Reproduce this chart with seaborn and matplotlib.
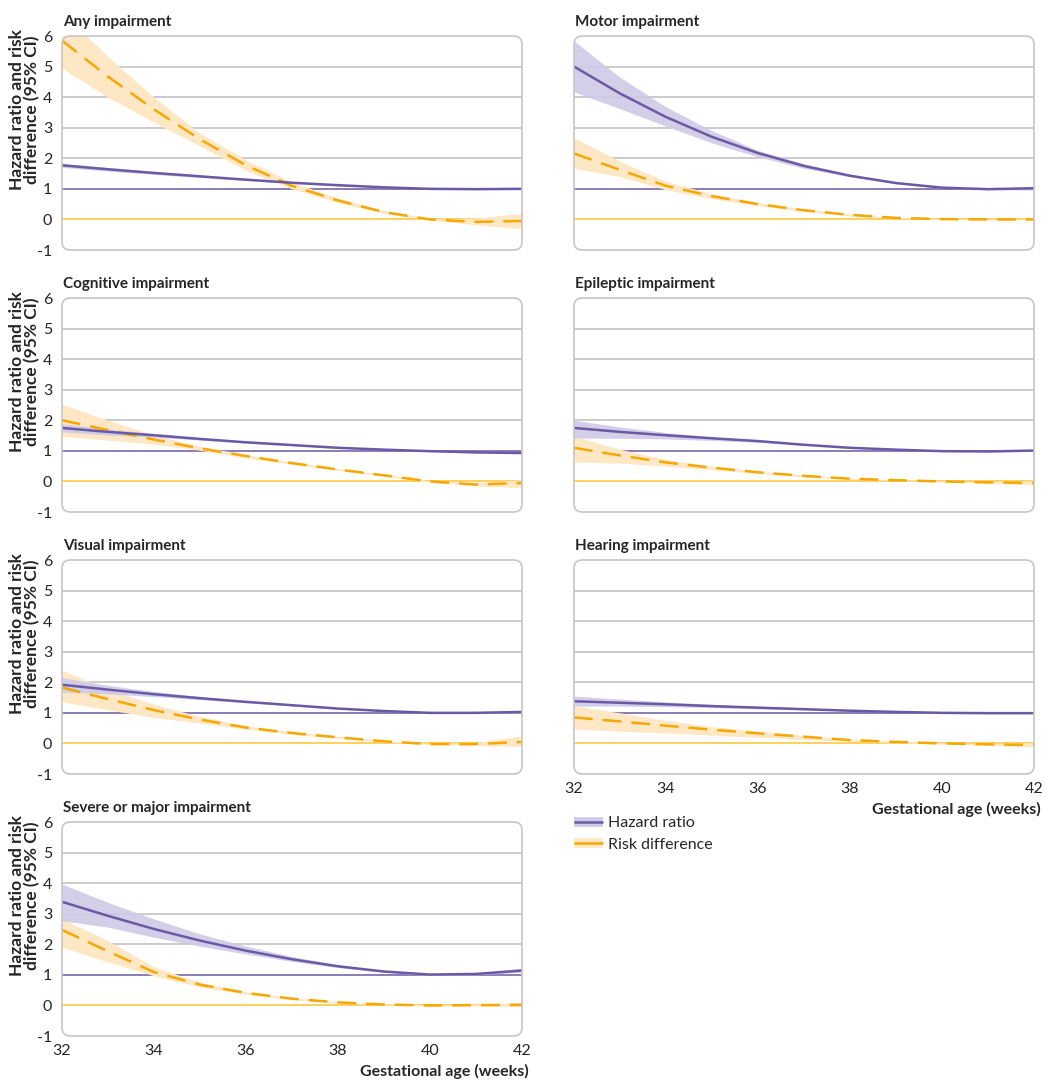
import numpy as np
import pandas as pd
import matplotlib
matplotlib.use("Agg")
import matplotlib.pyplot as plt
from matplotlib.patches import FancyBboxPatch
from matplotlib.lines import Line2D
import seaborn as sns

# ---------------- data ----------------
weeks = [32, 33, 34, 35, 36, 37, 38, 39, 40, 41, 42]

any_hr    = [1.77, 1.64, 1.52, 1.41, 1.30, 1.20, 1.12, 1.05, 1.00, 0.99, 1.00]
any_hr_lo = [1.70, 1.58, 1.47, 1.37, 1.27, 1.18, 1.10, 1.04, 0.99, 0.98, 0.98]
any_hr_hi = [1.84, 1.70, 1.57, 1.45, 1.33, 1.22, 1.14, 1.06, 1.01, 1.00, 1.02]
any_rd    = [5.85, 4.67, 3.60, 2.62, 1.77, 1.10, 0.62, 0.24, 0.00, -0.08, -0.05]
any_rd_lo = [4.95, 4.00, 3.18, 2.40, 1.60, 1.00, 0.55, 0.19, -0.02, -0.18, -0.30]
any_rd_hi = [6.80, 5.32, 4.00, 2.82, 1.95, 1.22, 0.70, 0.29, 0.02, 0.04, 0.20]

motor_hr    = [5.00, 4.12, 3.35, 2.70, 2.17, 1.75, 1.43, 1.19, 1.04, 0.99, 1.02]
motor_hr_lo = [4.17, 3.62, 3.05, 2.50, 2.05, 1.67, 1.39, 1.17, 1.02, 0.97, 0.96]
motor_hr_hi = [5.84, 4.65, 3.68, 2.90, 2.26, 1.82, 1.47, 1.21, 1.05, 1.01, 1.08]
motor_rd    = [2.16, 1.62, 1.10, 0.76, 0.50, 0.30, 0.15, 0.05, 0.01, 0.00, 0.00]
motor_rd_lo = [1.68, 1.40, 0.97, 0.68, 0.45, 0.26, 0.12, 0.03, 0.00, -0.01, -0.02]
motor_rd_hi = [2.68, 1.90, 1.24, 0.84, 0.55, 0.34, 0.18, 0.07, 0.02, 0.01, 0.01]

cog_hr    = [1.75, 1.62, 1.51, 1.39, 1.28, 1.19, 1.10, 1.04, 0.99, 0.95, 0.93]
cog_hr_lo = [1.62, 1.52, 1.45, 1.35, 1.25, 1.17, 1.08, 1.03, 0.98, 0.93, 0.90]
cog_hr_hi = [1.88, 1.72, 1.57, 1.43, 1.31, 1.21, 1.12, 1.05, 1.00, 0.97, 0.96]
cog_rd    = [2.00, 1.68, 1.37, 1.08, 0.83, 0.60, 0.39, 0.20, 0.00, -0.10, -0.05]
cog_rd_lo = [1.48, 1.35, 1.22, 1.02, 0.77, 0.56, 0.36, 0.17, -0.02, -0.15, -0.20]
cog_rd_hi = [2.53, 2.00, 1.52, 1.15, 0.88, 0.64, 0.42, 0.23, 0.02, -0.04, 0.05]

epi_hr    = [1.75, 1.62, 1.51, 1.41, 1.32, 1.20, 1.10, 1.04, 0.99, 0.98, 1.01]
epi_hr_lo = [1.42, 1.41, 1.39, 1.34, 1.28, 1.18, 1.08, 1.03, 0.98, 0.97, 0.99]
epi_hr_hi = [2.00, 1.78, 1.60, 1.46, 1.35, 1.22, 1.12, 1.05, 1.00, 0.99, 1.03]
epi_rd    = [1.10, 0.85, 0.62, 0.45, 0.30, 0.18, 0.09, 0.04, 0.00, -0.03, -0.05]
epi_rd_lo = [0.63, 0.60, 0.50, 0.38, 0.26, 0.15, 0.07, 0.02, -0.02, -0.06, -0.12]
epi_rd_hi = [1.48, 1.05, 0.72, 0.50, 0.34, 0.21, 0.11, 0.05, 0.02, 0.00, 0.02]

vis_hr    = [1.92, 1.76, 1.61, 1.48, 1.36, 1.25, 1.14, 1.06, 1.00, 1.00, 1.03]
vis_hr_lo = [1.68, 1.62, 1.53, 1.43, 1.33, 1.23, 1.12, 1.05, 0.99, 0.98, 1.00]
vis_hr_hi = [2.15, 1.90, 1.70, 1.53, 1.39, 1.27, 1.16, 1.07, 1.01, 1.01, 1.06]
vis_rd    = [1.83, 1.45, 1.09, 0.78, 0.52, 0.34, 0.20, 0.07, -0.02, -0.02, 0.05]
vis_rd_lo = [1.36, 1.10, 0.85, 0.66, 0.46, 0.30, 0.16, 0.04, -0.04, -0.07, -0.10]
vis_rd_hi = [2.39, 1.77, 1.28, 0.88, 0.58, 0.38, 0.24, 0.10, 0.00, 0.03, 0.25]

hear_hr    = [1.38, 1.33, 1.28, 1.22, 1.17, 1.12, 1.07, 1.03, 1.00, 0.99, 0.99]
hear_hr_lo = [1.22, 1.22, 1.20, 1.17, 1.13, 1.10, 1.06, 1.02, 0.99, 0.98, 0.98]
hear_hr_hi = [1.55, 1.45, 1.36, 1.28, 1.21, 1.14, 1.08, 1.04, 1.01, 1.00, 1.00]
hear_rd    = [0.85, 0.72, 0.58, 0.45, 0.33, 0.22, 0.11, 0.05, 0.00, -0.03, -0.05]
hear_rd_lo = [0.47, 0.40, 0.34, 0.27, 0.20, 0.13, 0.07, 0.02, -0.02, -0.06, -0.12]
hear_rd_hi = [1.23, 1.00, 0.75, 0.55, 0.40, 0.26, 0.15, 0.07, 0.02, 0.00, 0.02]

sev_hr    = [3.39, 2.93, 2.50, 2.12, 1.79, 1.51, 1.28, 1.11, 1.01, 1.03, 1.14]
sev_hr_lo = [2.77, 2.56, 2.23, 1.94, 1.68, 1.44, 1.24, 1.08, 0.98, 1.00, 1.09]
sev_hr_hi = [3.97, 3.37, 2.83, 2.34, 1.94, 1.60, 1.33, 1.14, 1.02, 1.06, 1.22]
sev_rd    = [2.47, 1.77, 1.09, 0.68, 0.41, 0.22, 0.10, 0.03, 0.00, 0.01, 0.02]
sev_rd_lo = [1.91, 1.42, 0.97, 0.60, 0.36, 0.19, 0.08, 0.01, -0.02, -0.02, -0.05]
sev_rd_hi = [2.83, 2.12, 1.26, 0.76, 0.45, 0.25, 0.12, 0.05, 0.02, 0.04, 0.10]

titles = ["Any impairment", "Motor impairment", "Cognitive impairment",
          "Epileptic impairment", "Visual impairment", "Hearing impairment",
          "Severe or major impairment"]
y_ticks = [-1, 0, 1, 2, 3, 4, 5, 6]
x_ticks = [32, 34, 36, 38, 40, 42]
legend_labels = ["Hazard ratio", "Risk difference"]
y_label = "Hazard ratio and risk\ndifference (95% CI)"
x_label = "Gestational age (weeks)"

panels = [
    (any_hr, any_hr_lo, any_hr_hi, any_rd, any_rd_lo, any_rd_hi),
    (motor_hr, motor_hr_lo, motor_hr_hi, motor_rd, motor_rd_lo, motor_rd_hi),
    (cog_hr, cog_hr_lo, cog_hr_hi, cog_rd, cog_rd_lo, cog_rd_hi),
    (epi_hr, epi_hr_lo, epi_hr_hi, epi_rd, epi_rd_lo, epi_rd_hi),
    (vis_hr, vis_hr_lo, vis_hr_hi, vis_rd, vis_rd_lo, vis_rd_hi),
    (hear_hr, hear_hr_lo, hear_hr_hi, hear_rd, hear_rd_lo, hear_rd_hi),
    (sev_hr, sev_hr_lo, sev_hr_hi, sev_rd, sev_rd_lo, sev_rd_hi),
]

# ---------------- style ----------------
sns.set_style("white")
plt.rcParams['font.family'] = ['Lato', 'DejaVu Sans']

PURPLE = "#6A5AA6"
PURPLE_FILL = "#CFCAE6"
ORANGE = "#F6A800"
ORANGE_FILL = "#FEE7C4"
REF_ORANGE = "#FFC233"
GRID = "#BDBDBD"
FRAME = "#C6C6C6"

W, H = 1058, 1091
fig = plt.figure(figsize=(W / 100, H / 100), dpi=100)
fig.patch.set_facecolor("white")

col_left = [62, 574]
ax_w = 460
ax_h = 214
row_top = [36, 298, 560, 822]

def add_axes(col, row):
    l = col_left[col] / W
    b = 1 - (row_top[row] + ax_h) / H
    return fig.add_axes([l, b, ax_w / W, ax_h / H])

positions = [(0, 0), (1, 0), (0, 1), (1, 1), (0, 2), (1, 2), (0, 3)]
bottom_panels = {5, 6}

for i, ((col, row), title, data) in enumerate(zip(positions, titles, panels)):
    hr, hr_lo, hr_hi, rd, rd_lo, rd_hi = data
    ax = add_axes(col, row)
    ax.set_xlim(32, 42)
    ax.set_ylim(-1, 6)
    for s in ax.spines.values():
        s.set_visible(False)

    # horizontal reference/grid lines
    for yv in [2, 3, 4, 5]:
        ax.axhline(yv, color=GRID, lw=1.1, zorder=0.5)
    ax.axhline(1, color=PURPLE, lw=1.1, zorder=0.6)
    ax.axhline(0, color=REF_ORANGE, lw=1.1, zorder=0.6)

    df = pd.DataFrame({"week": weeks, "hr": hr, "hr_lo": hr_lo, "hr_hi": hr_hi,
                       "rd": rd, "rd_lo": rd_lo, "rd_hi": rd_hi})

    ax.fill_between(df["week"], df["rd_lo"], df["rd_hi"], color=ORANGE_FILL,
                    lw=0, zorder=1)
    ax.fill_between(df["week"], df["hr_lo"], df["hr_hi"], color=PURPLE_FILL,
                    lw=0, zorder=1.1, alpha=0.9)
    sns.lineplot(data=df, x="week", y="hr", ax=ax, color=PURPLE, lw=1.8,
                 zorder=3)
    sns.lineplot(data=df, x="week", y="rd", ax=ax, color=ORANGE, lw=1.8,
                 zorder=2.5)
    ax.lines[-1].set_linestyle((0, (7.5, 4)))
    ax.set_xlabel("")
    ax.set_ylabel("")

    # rounded frame
    frame = FancyBboxPatch((0, 0), 1, 1, boxstyle="round,pad=0,rounding_size=0.018",
                           mutation_aspect=ax_w / ax_h, transform=ax.transAxes,
                           facecolor="none", edgecolor=FRAME, lw=1.2,
                           clip_on=False, zorder=5)
    ax.add_patch(frame)

    ax.set_xticks(x_ticks)
    ax.tick_params(axis="x", direction="in", length=5, width=1.1, color=FRAME,
                   labelsize=11.5, pad=6)
    ticks = ax.xaxis.get_major_ticks()
    ticks[0].tick1line.set_visible(False)
    ticks[-1].tick1line.set_visible(False)
    if i not in bottom_panels:
        ax.set_xticklabels([])
    else:
        ax.text(1.015, -0.168, x_label, transform=ax.transAxes,
                ha="right", va="center", fontsize=11.5, fontweight="bold")

    ax.set_yticks(y_ticks)
    if col == 0:
        ax.set_yticklabels([str(v) for v in y_ticks])
        ax.tick_params(axis="y", length=0, labelsize=11.5, pad=7)
        ax.text(-0.081, 1.03, y_label, transform=ax.transAxes, rotation=90,
                ha="center", va="top", fontsize=12.5, fontweight="bold",
                multialignment="center", linespacing=0.9)
    else:
        ax.set_yticklabels([])
        ax.tick_params(axis="y", length=0)

    ax.text(0.002, 1.035, title, transform=ax.transAxes, ha="left", va="bottom",
            fontsize=11, fontweight="bold")

# legend
h_hr = (Line2D([], [], color=PURPLE_FILL, lw=7, solid_capstyle="butt"),
        Line2D([], [], color=PURPLE, lw=1.8, solid_capstyle="butt"))
h_rd = (Line2D([], [], color=ORANGE_FILL, lw=7, solid_capstyle="butt"),
        Line2D([], [], color=ORANGE, lw=1.8, solid_capstyle="butt"))
fig.legend([h_hr, h_rd], legend_labels, loc="upper left",
           bbox_to_anchor=(574 / W, 1 - 816 / H), frameon=False, fontsize=11.5,
           handlelength=1.8, handletextpad=0.35, borderpad=0, borderaxespad=0,
           labelspacing=0.45)

fig.savefig("out.png", dpi=100, facecolor="white")
